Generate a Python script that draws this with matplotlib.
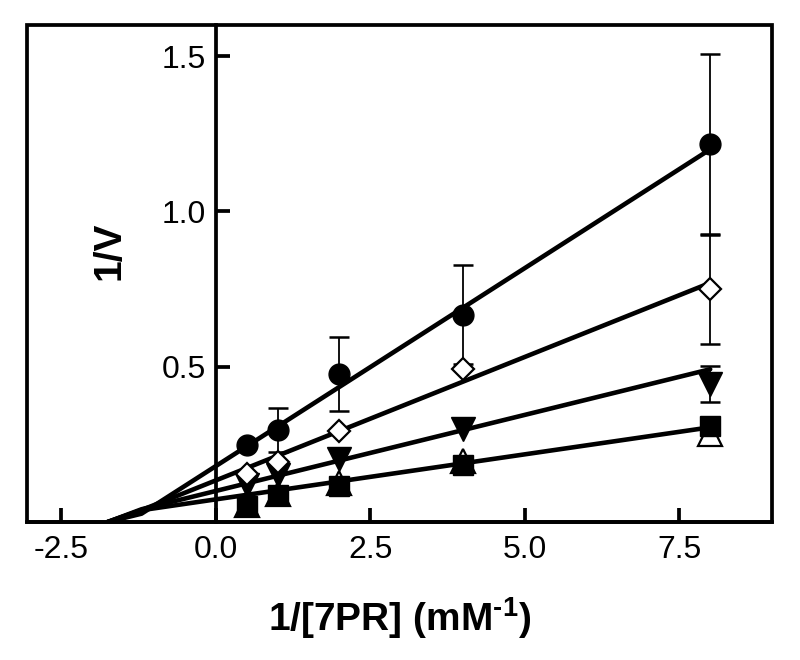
import numpy as np
import matplotlib
matplotlib.use("Agg")
import matplotlib.pyplot as plt
from matplotlib.patches import Rectangle

plt.rcParams['font.family'] = ['Liberation Sans', 'DejaVu Sans']
plt.rcParams['mathtext.fontset'] = 'custom'
plt.rcParams['mathtext.rm'] = 'Liberation Sans:bold'
plt.rcParams['mathtext.bf'] = 'Liberation Sans:bold'

nan = np.nan

# ---- data ----
inv_s = [0.5, 1.0, 2.0, 4.0, 8.0]

circle_y = [0.248, 0.296, 0.477, 0.668, 1.218]
circle_err = [nan, 0.07, 0.12, 0.16, 0.29]

diamond_y = [0.154, 0.193, 0.293, 0.494, 0.749]
diamond_err = [nan, nan, nan, nan, 0.175]

down_tri_y = [0.118, 0.150, 0.202, 0.300, 0.445]
down_tri_err = [nan, nan, nan, nan, 0.058]

up_tri_y = [0.055, 0.090, 0.125, 0.195, 0.285]

square_y = [0.053, 0.086, 0.115, 0.183, 0.309]

# fitted lines (slope, intercept)
fit_slopes = [0.1275, 0.0795, 0.049, 0.029]
fit_intercepts = [0.18, 0.134, 0.10, 0.073]
x_converge = -1.75
x_bend = -1.2
x_end = 8.0

xticks = [-2.5, 0.0, 2.5, 5.0, 7.5]
yticks = [0.5, 1.0, 1.5]

# ---- figure ----
fig = plt.figure(figsize=(8, 6.6), dpi=100)
ax = fig.add_axes([0.034, 0.209, 0.931, 0.753])
ax.set_xlim(-3.05, 9.0)
ax.set_ylim(0, 1.6)

# fit lines
for m, b in zip(fit_slopes, fit_intercepts):
    xs = np.array([x_converge, x_bend, x_end])
    ys = np.array([0.0, m * x_bend + b, m * x_end + b])
    ax.plot(xs, ys, color='black', lw=3.3, solid_capstyle='round',
            solid_joinstyle='round', zorder=2)

ekw = dict(fmt='none', ecolor='black', elinewidth=1.3, capsize=7.5, capthick=1.8, zorder=3)
ax.errorbar(inv_s, circle_y, yerr=circle_err, **ekw)
ax.errorbar(inv_s, diamond_y, yerr=diamond_err, **ekw)
ax.errorbar(inv_s, down_tri_y, yerr=down_tri_err, **ekw)

ax.plot(inv_s, up_tri_y, ls='none', marker='^', ms=17, mfc='white', mec='black', mew=1.6, zorder=4)
ax.plot(inv_s, square_y, ls='none', marker='s', ms=14.5, mfc='black', mec='black', mew=1, zorder=5)
ax.plot(inv_s, down_tri_y, ls='none', marker='v', ms=17, mfc='black', mec='black', mew=1, zorder=5)
ax.plot(inv_s, diamond_y, ls='none', marker='D', ms=11, mfc='white', mec='black', mew=1.6, zorder=5)
ax.plot(inv_s, circle_y, ls='none', marker='o', ms=15, mfc='black', mec='black', mew=1, zorder=5)

# axes styling
ax.spines['left'].set_position(('data', 0))
for s in ['left', 'bottom', 'top', 'right']:
    ax.spines[s].set_linewidth(2.7)
ax.spines['top'].set_visible(False)
ax.spines['right'].set_visible(False)
ax.add_patch(Rectangle((0, 0), 1, 1, transform=ax.transAxes, fill=False,
                       lw=2.7, ec='black', clip_on=False, zorder=10))

ax.set_xticks(xticks)
ax.set_xticklabels([f"{t:.1f}" for t in xticks])
ax.set_yticks(yticks)
ax.set_yticklabels([f"{t:.1f}" for t in yticks])
ax.tick_params(axis='both', direction='in', length=10, width=2.7, labelsize=23)
ax.tick_params(axis='x', pad=9)
ax.tick_params(axis='y', pad=7)

ax.set_xlabel(r'1/[7PR] (mM$^{\text{-1}}$)', fontsize=28, fontweight='bold', labelpad=22)
ax.set_ylabel('1/V', fontsize=28, fontweight='bold')
ax.yaxis.set_label_coords(0.135, 0.545)

fig.savefig('out.png', dpi=100)
